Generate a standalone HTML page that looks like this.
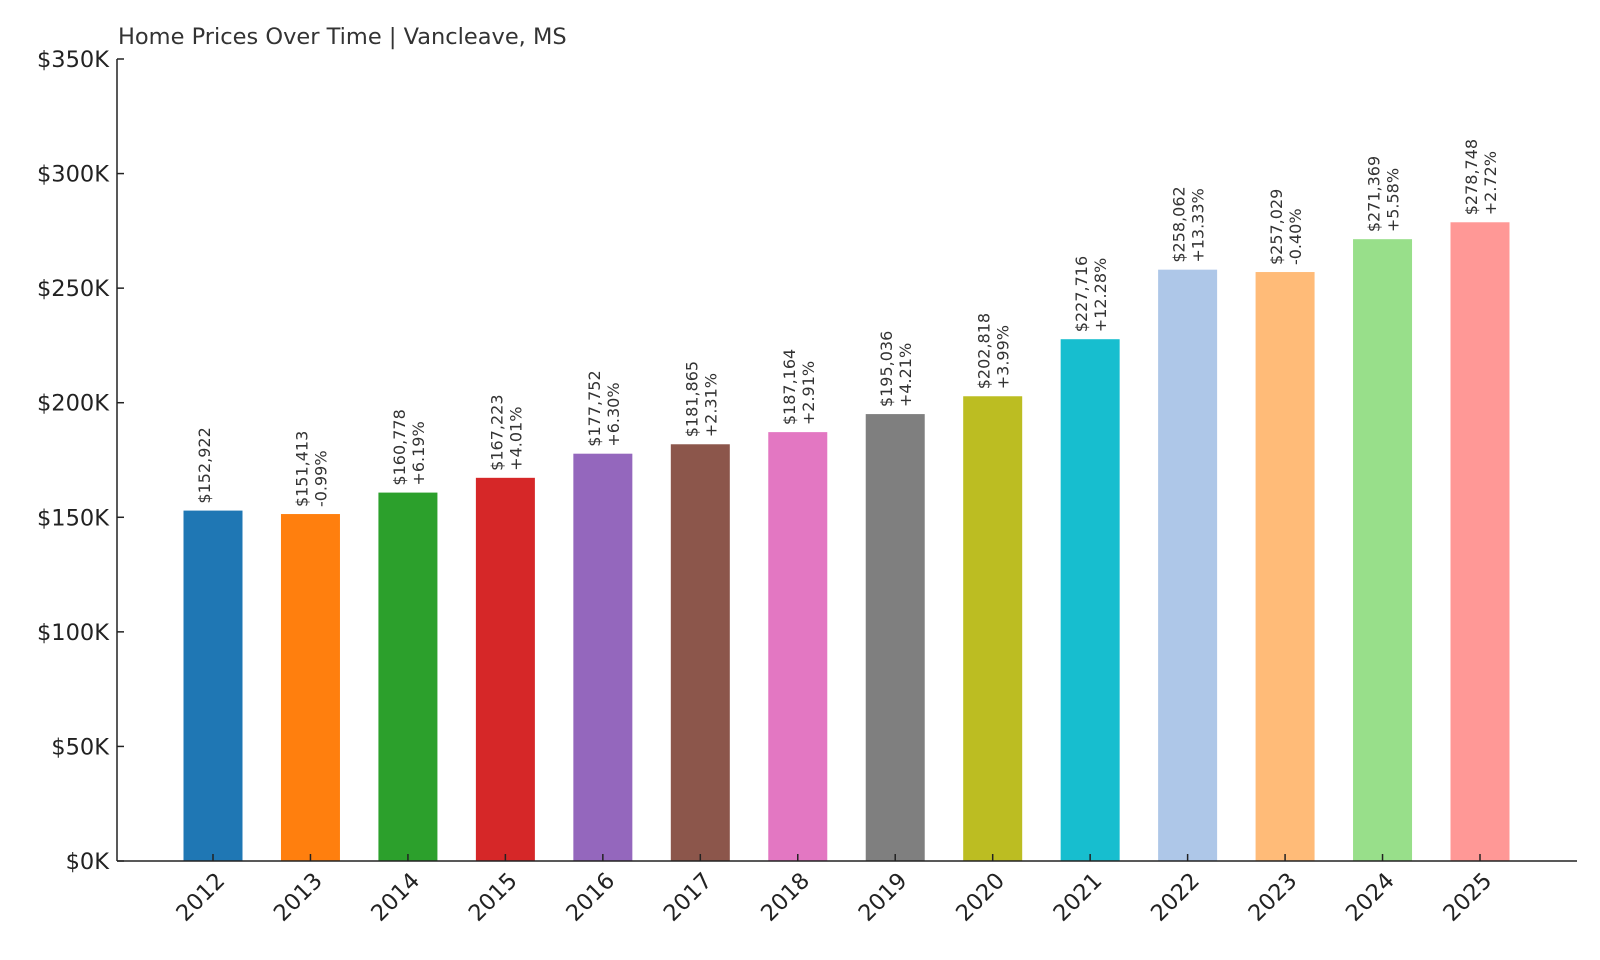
<!DOCTYPE html>
<html><head><meta charset="utf-8"><style>
body{margin:0;background:#fff}
svg{display:block;font-family:"DejaVu Sans","Liberation Sans",sans-serif}
</style></head><body>
<svg id="chart" width="1600" height="960" viewBox="0 0 1600 960">
<text x="118" y="44" font-size="22.5" fill="#333">Home Prices Over Time | Vancleave, MS</text>
<g id="yaxis"></g>
<g id="bars"></g>
<g id="xaxis"></g>
</svg>
<script>
const years=["2012","2013","2014","2015","2016","2017","2018","2019","2020","2021","2022","2023","2024","2025"];
const values=[152922,151413,160778,167223,177752,181865,187164,195036,202818,227716,258062,257029,271369,278748];
const pctLabels=["","-0.99%","+6.19%","+4.01%","+6.30%","+2.31%","+2.91%","+4.21%","+3.99%","+12.28%","+13.33%","-0.40%","+5.58%","+2.72%"];
const yTicks=[0,50000,100000,150000,200000,250000,300000,350000];
const colors=["#1f77b4","#ff7f0e","#2ca02c","#d62728","#9467bd","#8c564b","#e377c2","#7f7f7f","#bcbd22","#17becf","#aec7e8","#ffbb78","#98df8a","#ff9896"];
const NS="http://www.w3.org/2000/svg";
const x0=117,x1=1577,yBase=861,yTop=59,yMax=350000;
const y=v=>yBase-(v/yMax)*(yBase-yTop);
const xc=i=>213+i*((1480-213)/13);
const bw=59;
function mk(tag,attrs,parent,txt){const e=document.createElementNS(NS,tag);for(const k in attrs)e.setAttribute(k,attrs[k]);if(txt!==undefined)e.textContent=txt;parent.appendChild(e);return e;}
const ya=document.getElementById('yaxis'),ba=document.getElementById('bars'),xa=document.getElementById('xaxis');
values.forEach((v,i)=>{
  const c=xc(i);
  const r=mk('rect',{x:c-bw/2,y:y(v),width:bw,height:yBase-y(v),fill:colors[i]},ba);
  
  
  const ly=y(v)-7;
  const t1=mk('text',{x:0,y:0,'font-size':16,fill:'#333',transform:`translate(${c-3},${ly}) rotate(-90)`},ba,'$'+v.toLocaleString('en-US'));
  
  
  if(pctLabels[i]){
    const t2=mk('text',{x:0,y:0,'font-size':16,fill:'#333',transform:`translate(${c+16},${ly}) rotate(-90)`},ba,pctLabels[i]);
    
    
  }
  const tk=mk('line',{x1:c,x2:c,y1:yBase-7,y2:yBase,stroke:'#222','stroke-width':1.5},xa);
  
  
  const yl=mk('text',{x:0,y:0,'font-size':22.5,fill:'#222','text-anchor':'end',transform:`translate(${c+13},${yBase+21}) rotate(-45)`},xa,years[i]);
  
  
});
yTicks.forEach(t=>{
  const l=mk('line',{x1:x0,x2:x0+7,y1:y(t),y2:y(t),stroke:'#222','stroke-width':1.5},ya);
  
  
  const tx=mk('text',{x:x0-8,y:y(t)+8,'text-anchor':'end','font-size':22.5,fill:'#222'},ya,'$'+(t/1000)+'K');
  
  
});
const ax=mk('line',{x1:x0,x2:x0,y1:yTop,y2:yBase,stroke:'#222','stroke-width':1.5},ya);


const bx=mk('line',{x1:x0,x2:x1,y1:yBase,y2:yBase,stroke:'#222','stroke-width':1.5},xa);


</script>
</body></html>
